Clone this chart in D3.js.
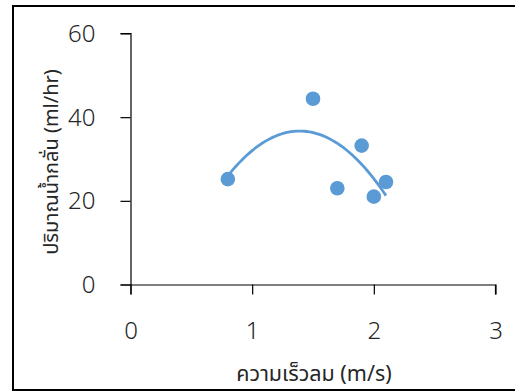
<!DOCTYPE html>
<html>
<head>
<meta charset="utf-8">
<script src="https://cdn.jsdelivr.net/npm/d3@7"></script>
<style>
  html, body { margin: 0; padding: 0; background: #fff; }
  svg { display: block; }
  text { font-family: "Noto Sans", "Noto Sans Thai", "Open Sans", sans-serif; fill: #262626; }
</style>
</head>
<body>
<svg id="chart" width="515" height="392"></svg>
<script>
// Wind speed (m/s) vs. evaporation rate (ml/hr)
const windSpeed = [0.8, 1.5, 1.7, 1.9, 2.0, 2.1];
const waterRate = [25.2, 44.4, 23.0, 33.2, 21.0, 24.5];
const xTicks = [0, 1, 2, 3];
const yTicks = [0, 20, 40, 60];
const xTitle = "ความเร็วลม (m/s)";
const yTitle = "ปริมาณน้ำกลั่น (ml/hr)";

const blue = "#5B9BD5";
const svg = d3.select("#chart");

// outer frame
svg.append("rect")
  .attr("x", 13).attr("y", 6).attr("width", 520).attr("height", 384)
  .attr("fill", "none").attr("stroke", "#000").attr("stroke-width", 2);

const x = d3.scaleLinear().domain([0, 3]).range([130.5, 495.5]);
const y = d3.scaleLinear().domain([0, 60]).range([284.5, 33.5]);

// axes
const xAxis = d3.axisBottom(x).tickValues(xTicks).tickSize(10).tickSizeOuter(10).tickFormat(d3.format("d"));
const yAxis = d3.axisLeft(y).tickValues(yTicks).tickSize(10).tickSizeOuter(10).tickFormat(d3.format("d"));

const gx = svg.append("g").attr("transform", `translate(0,${y(0)})`).call(xAxis);
const gy = svg.append("g").attr("transform", `translate(${x(0)},0)`).call(yAxis);

[gx, gy].forEach(g => {
  g.select(".domain").attr("stroke", "#000").attr("stroke-width", 1.2);
  g.selectAll(".tick line").attr("stroke", "#000").attr("stroke-width", 1.2);
  g.selectAll(".tick text").attr("font-size", 24).attr("fill", "#2a2a2a")
    .style("font-family", "'Noto Sans', sans-serif").style("font-weight", 300);
});
gx.select(".domain").attr("d", `M${x(0) - 10},0.5H${x(3)}V10`);
gy.select(".domain").attr("d", `M-10,${y(60)}H0.5V${y(0) + 10}`);
gx.selectAll(".tick text").attr("dy", 0).attr("y", 54);
gy.selectAll(".tick text").attr("x", -35).attr("dy", "0.33em").attr("text-anchor", "end");

// least-squares quadratic trendline through the points
function quadFit(xs, ys) {
  const n = xs.length;
  let s = [0, 0, 0, 0, 0], t = [0, 0, 0];
  for (let i = 0; i < n; i++) {
    for (let k = 0; k < 5; k++) s[k] += Math.pow(xs[i], k);
    for (let k = 0; k < 3; k++) t[k] += ys[i] * Math.pow(xs[i], k);
  }
  const M = [[s[0], s[1], s[2], t[0]], [s[1], s[2], s[3], t[1]], [s[2], s[3], s[4], t[2]]];
  for (let c = 0; c < 3; c++) {
    for (let r = c + 1; r < 3; r++) {
      const f = M[r][c] / M[c][c];
      for (let k = c; k < 4; k++) M[r][k] -= f * M[c][k];
    }
  }
  const b = [0, 0, 0];
  for (let r = 2; r >= 0; r--) {
    let v = M[r][3];
    for (let k = r + 1; k < 3; k++) v -= M[r][k] * b[k];
    b[r] = v / M[r][r];
  }
  return b;
}
const coef = quadFit(windSpeed, waterRate);
const xMin = d3.min(windSpeed), xMax = d3.max(windSpeed);
const curve = d3.range(0, 61).map(i => {
  const xv = xMin + (xMax - xMin) * i / 60;
  return [xv, coef[0] + coef[1] * xv + coef[2] * xv * xv];
});

svg.append("path")
  .datum(curve)
  .attr("fill", "none")
  .attr("stroke", blue)
  .attr("stroke-width", 2.8)
  .attr("d", d3.line().x(d => x(d[0])).y(d => y(d[1])));

svg.append("g").selectAll("circle")
  .data(windSpeed.map((d, i) => [d, waterRate[i]]))
  .join("circle")
  .attr("cx", d => x(d[0]))
  .attr("cy", d => y(d[1]))
  .attr("r", 7.3)
  .attr("fill", blue);

// axis titles
svg.append("text")
  .attr("x", 314).attr("y", 381)
  .attr("text-anchor", "middle")
  .attr("font-size", 21.5)
  .attr("fill", "#2a2a2a")
  .text(xTitle);

svg.append("text")
  .attr("transform", `translate(58,162) rotate(-90)`)
  .attr("text-anchor", "middle")
  .attr("font-size", 20)
  .attr("fill", "#2a2a2a")
  .text(yTitle);
</script>
</body>
</html>
